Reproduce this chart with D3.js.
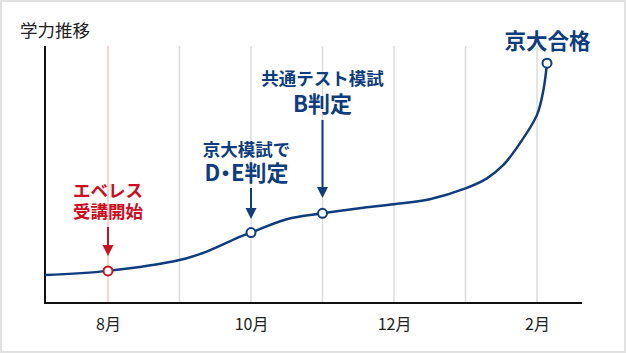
<!DOCTYPE html>
<html><head><meta charset="utf-8">
<script src="https://cdn.jsdelivr.net/npm/d3@7"></script>
<style>
html,body{margin:0;padding:0;background:#fff;}
svg{display:block;font-family:"Noto Sans CJK JP","Noto Sans",sans-serif;}
</style></head>
<body><svg id="c" width="626" height="353"></svg>
<script>
// month positions (8 = Aug, 13 = Jan, 14 = Feb)
const gridMonths = [8, 9, 10, 11, 12, 13, 14];
const tickMonths = [8, 10, 12, 14];
const tickLabels = ["8月", "10月", "12月", "2月"];
// curve samples (month, score)
const curveMonths = [7.12, 8, 9, 9.38, 9.85, 10, 10.5, 11, 11.57, 12, 12.5, 13, 13.3, 13.53, 13.76, 14, 14.09, 14.14];
const curveScores = [10.9, 12.5, 16.7, 20.0, 25.8, 27.4, 32.6, 34.9, 37.1, 38.4, 40.4, 44.6, 48.5, 53.7, 62.1, 73.2, 82.9, 93.3];
// milestones
const markMonths = [8, 10, 11, 14.14];
const markScores = [12.5, 27.4, 34.9, 93.3];
const markKinds = ["red", "navy", "navy", "navy"];
const yTitle = "学力推移";

const NAVY = "#0d3d7e", RED = "#cc0e1f";
const svg = d3.select("#c");

// outer frame
svg.append("rect").attr("x", 1).attr("y", 1).attr("width", 624).attr("height", 351)
  .attr("fill", "#fff").attr("stroke", "#e2e2e2").attr("stroke-width", 2);

const x = d3.scaleLinear().domain([8, 14]).range([108, 537]);
const y = d3.scaleLinear().domain([0, 100]).range([303, 46]);
const x0 = 45, x1 = 582, yTop = 46, yBot = 303;

// grid lines
svg.append("g").selectAll("line").data(gridMonths).join("line")
  .attr("x1", d => x(d)).attr("x2", d => x(d))
  .attr("y1", yTop).attr("y2", yBot)
  .attr("stroke", d => d === 8 ? "#f6a3a6" : "#dcdcdc")
  .attr("stroke-width", d => d === 8 ? 1 : 1.5);

// x axis (labels)
const xAxis = d3.axisBottom(x).tickValues(tickMonths)
  .tickFormat((d, i) => tickLabels[i]).tickSize(0).tickPadding(0);
const gx = svg.append("g").attr("transform", `translate(0,${yBot})`).call(xAxis);
gx.select(".domain").remove();
gx.selectAll("text").attr("font-size", 16).attr("fill", "#222")
  .attr("font-family", '"Noto Sans CJK JP",sans-serif')
  .attr("dy", null).attr("y", 27);

// axis lines
svg.append("line").attr("x1", x0).attr("x2", x0).attr("y1", yTop).attr("y2", yBot + 1)
  .attr("stroke", "#111").attr("stroke-width", 2);
svg.append("line").attr("x1", x0 - 1).attr("x2", x1).attr("y1", yBot).attr("y2", yBot)
  .attr("stroke", "#111").attr("stroke-width", 2);

// y title
svg.append("text").attr("x", 20).attr("y", 37).attr("font-size", 17.5).attr("fill", "#222").text(yTitle);

// curve
const pts = curveMonths.map((m, i) => [m, curveScores[i]]);
const line = d3.line().x(d => x(d[0])).y(d => y(d[1])).curve(d3.curveCatmullRom.alpha(0.5));
svg.append("path").attr("d", line(pts)).attr("fill", "none")
  .attr("stroke", NAVY).attr("stroke-width", 2.5);

// arrows
function arrow(cx, top, tip, color) {
  const hh = 11, hw = 5.5;
  svg.append("line").attr("x1", cx).attr("x2", cx).attr("y1", top).attr("y2", tip - hh + 1)
    .attr("stroke", color).attr("stroke-width", 2);
  svg.append("path").attr("d", `M${cx - hw},${tip - hh}L${cx + hw},${tip - hh}L${cx},${tip}Z`).attr("fill", color);
}
arrow(x(8), 227, 256, RED);
arrow(x(10), 188, 219, NAVY);
arrow(x(11), 120, 198, NAVY);

// markers
svg.append("g").selectAll("circle").data(markMonths).join("circle")
  .attr("cx", d => x(d)).attr("cy", (d, i) => y(markScores[i])).attr("r", 4.5)
  .attr("fill", "#fff").attr("stroke", (d, i) => markKinds[i] === "red" ? RED : NAVY)
  .attr("stroke-width", 2);

// annotation texts: each block is one <text> with stacked lines
// lines: [text, fontSize, baselineY, palt]
function block(cx, color, lines) {
  const t = svg.append("text").attr("text-anchor", "middle")
    .attr("font-weight", 700).attr("fill", color);
  lines.forEach(([s, size, by, palt]) => {
    const ts = t.append("tspan").attr("x", cx).attr("y", by).attr("font-size", size).text(s);
    if (palt) ts.style("font-feature-settings", '"palt" 1');
  });
}
block(x(8), RED, [["エベレス", 17.5, 197], ["受講開始", 17.5, 218]]);
block(246.5, NAVY, [["京大模試で", 17.5, 156], ["D・E判定", 22, 181, true]]);
block(x(11), NAVY, [["共通テスト模試", 17.5, 85], ["B判定", 22, 112]]);
block(547.5, NAVY, [["京大合格", 21.5, 49]]);
</script></body></html>
